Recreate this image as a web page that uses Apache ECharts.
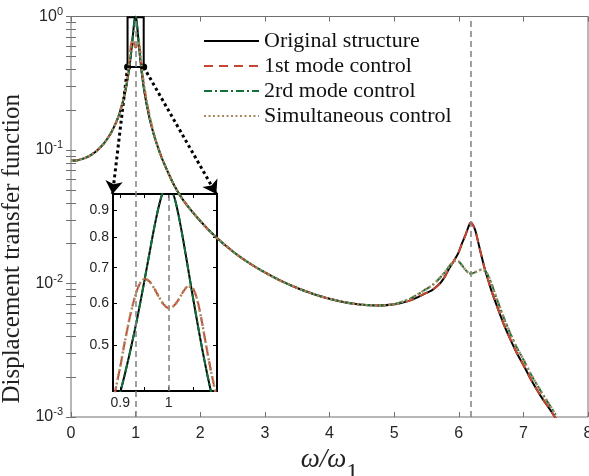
<!DOCTYPE html>
<html>
<head>
<meta charset="utf-8">
<script src="https://cdn.jsdelivr.net/npm/echarts@6/dist/echarts.min.js"></script>
<style>
  html, body { margin: 0; background: #fff; }
  #main { width: 589px; height: 476px; }
</style>
</head>
<body>
<div id="main"></div>
<script>
// frequency ratio w/w1
const freq = [0, 0.1, 0.2, 0.3, 0.4, 0.5, 0.6, 0.7, 0.75, 0.8, 0.82, 0.84, 0.86, 0.88, 0.89,
  0.9, 0.91, 0.92, 0.93, 0.94, 0.95, 0.96, 0.97, 0.98, 0.99, 1.0, 1.01, 1.02, 1.03, 1.04, 1.05,
  1.06, 1.07, 1.08, 1.09, 1.1, 1.11, 1.12, 1.15, 1.2, 1.25, 1.3, 1.4, 1.5, 1.6, 1.75, 2.0, 2.25,
  2.5, 2.75, 3.0, 3.25, 3.5, 3.75, 4.0, 4.25, 4.5, 4.75, 5.0, 5.25, 5.5, 5.6, 5.7, 5.75, 5.8,
  5.85, 5.9, 5.95, 6.0, 6.05, 6.1, 6.15, 6.18, 6.2, 6.25, 6.3, 6.35, 6.4, 6.45, 6.5, 6.6, 6.7,
  6.8, 6.9, 7.0, 7.1, 7.2, 7.3, 7.4, 7.5];

const original = [0.083, 0.0838, 0.0865, 0.0912, 0.0988, 0.1106, 0.1293, 0.1617, 0.1878, 0.2267,
  0.2481, 0.2743, 0.3074, 0.350, 0.376,
  0.4065, 0.442, 0.484, 0.533, 0.592, 0.662, 0.742, 0.831, 0.917, 0.982, 1.0, 0.963, 0.885, 0.791,
  0.699, 0.617, 0.547, 0.488, 0.439, 0.398, 0.362, 0.332, 0.306, 0.248, 0.186, 0.148, 0.1218,
  0.0883, 0.0683, 0.054, 0.0412, 0.0294, 0.0221, 0.01745, 0.0143, 0.0121, 0.01046, 0.00925,
  0.00835, 0.00768, 0.00721, 0.00693, 0.00684, 0.00698, 0.00748, 0.0085, 0.0090, 0.0099, 0.0106,
  0.0116, 0.0129, 0.0141, 0.0155, 0.0172, 0.0200, 0.0228, 0.0266, 0.0285, 0.0283, 0.0255, 0.0205,
  0.0162, 0.0130, 0.0108, 0.0090, 0.0066, 0.0049, 0.0038, 0.0030, 0.00245, 0.00198, 0.00163,
  0.00136, 0.00116, 0.00098];

const firstMode = [0.083, 0.0838, 0.0865, 0.0912, 0.0988, 0.1106, 0.1293, 0.1617, 0.1878, 0.229,
  0.251, 0.279, 0.318, 0.370, 0.41,
  0.455, 0.51, 0.565, 0.615, 0.652, 0.666, 0.66, 0.64, 0.616, 0.596, 0.587, 0.592, 0.608, 0.63,
  0.645, 0.64, 0.605, 0.545, 0.485, 0.435, 0.395, 0.36, 0.33, 0.266, 0.195, 0.152, 0.1235,
  0.0883, 0.0683, 0.054, 0.0412, 0.0294, 0.0221, 0.01745, 0.0143, 0.0121, 0.01046, 0.00925,
  0.00835, 0.00768, 0.00721, 0.00693, 0.00684, 0.00698, 0.00748, 0.0085, 0.0090, 0.0099, 0.0106,
  0.0116, 0.0129, 0.0141, 0.0155, 0.0172, 0.0200, 0.0228, 0.0266, 0.0285, 0.0283, 0.0255, 0.0205,
  0.0162, 0.0130, 0.0108, 0.0090, 0.0066, 0.0049, 0.0038, 0.0030, 0.00245, 0.00198, 0.00163,
  0.00136, 0.00116, 0.00098];

const secondMode = [0.083, 0.0838, 0.0865, 0.0912, 0.0988, 0.1106, 0.1293, 0.1617, 0.1878, 0.2267,
  0.2481, 0.2743, 0.3074, 0.350, 0.376,
  0.4065, 0.442, 0.484, 0.533, 0.592, 0.662, 0.742, 0.831, 0.917, 0.982, 1.0, 0.963, 0.885, 0.791,
  0.699, 0.617, 0.547, 0.488, 0.439, 0.398, 0.362, 0.332, 0.306, 0.248, 0.186, 0.148, 0.1218,
  0.0883, 0.0683, 0.054, 0.0412, 0.0294, 0.0221, 0.01745, 0.0143, 0.0121, 0.01046, 0.00925,
  0.00835, 0.00768, 0.00721, 0.00693, 0.00684, 0.0070, 0.0077, 0.0091, 0.0098, 0.0109, 0.0116,
  0.0124, 0.0134, 0.0143, 0.0148, 0.0146, 0.0137, 0.0127, 0.0120, 0.0119, 0.0119, 0.0121, 0.0125,
  0.0127, 0.0125, 0.0116, 0.0102, 0.0074, 0.0055, 0.0042, 0.0033, 0.0027, 0.00216, 0.00178,
  0.00148, 0.00124, 0.00104];

const simultaneous = [0.083, 0.0838, 0.0865, 0.0912, 0.0988, 0.1106, 0.1293, 0.1617, 0.1878, 0.229,
  0.251, 0.279, 0.318, 0.370, 0.41,
  0.455, 0.51, 0.565, 0.615, 0.652, 0.666, 0.66, 0.64, 0.616, 0.596, 0.587, 0.592, 0.608, 0.63,
  0.645, 0.64, 0.605, 0.545, 0.485, 0.435, 0.395, 0.36, 0.33, 0.266, 0.195, 0.152, 0.1235,
  0.0883, 0.0683, 0.054, 0.0412, 0.0294, 0.0221, 0.01745, 0.0143, 0.0121, 0.01046, 0.00925,
  0.00835, 0.00768, 0.00721, 0.00693, 0.00684, 0.0070, 0.0077, 0.0091, 0.0098, 0.0109, 0.0116,
  0.0124, 0.0134, 0.0143, 0.0148, 0.0146, 0.0137, 0.0127, 0.0120, 0.0119, 0.0119, 0.0121, 0.0125,
  0.0127, 0.0125, 0.0116, 0.0102, 0.0074, 0.0055, 0.0042, 0.0033, 0.0027, 0.00216, 0.00178,
  0.00148, 0.00124, 0.00104];

const seriesNames = ['Original structure', '1st mode control', '2rd mode control', 'Simultaneous control'];
const yMajorTicks = [0.001, 0.01, 0.1, 1];
const yMinorTicks = [0.002, 0.003, 0.004, 0.005, 0.006, 0.007, 0.008, 0.009,
  0.02, 0.03, 0.04, 0.05, 0.06, 0.07, 0.08, 0.09,
  0.2, 0.3, 0.4, 0.5, 0.6, 0.7, 0.8, 0.9];
const insetXTicks = [0.9, 0.95, 1, 1.05, 1.1];
const insetXLabels = [0.9, 1];
const insetYTicks = [0.5, 0.6, 0.7, 0.8, 0.9];
const modeLines = [1, 6.18];

const serif = 'Liberation Serif';
const sans = 'Liberation Sans';

const lineStyles = [
  { color: '#000000', type: 'solid', width: 2 },
  { color: '#c8452f', type: [9, 6], width: 2 },
  { color: '#13703d', type: [8, 3, 2, 3], width: 2 },
  { color: '#a88960', type: [2, 2.5], width: 2.5 }
];
const allData = [original, firstMode, secondMode, simultaneous];

function pairs(ys) {
  return freq.map((x, i) => [x, ys[i]]);
}

const chart = echarts.init(document.getElementById('main'));

const series = [];
// main plot
allData.forEach((ys, i) => {
  series.push({
    name: seriesNames[i],
    type: 'line',
    xAxisIndex: 0,
    yAxisIndex: 0,
    data: pairs(ys),
    symbol: 'none',
    smooth: 0.3,
    lineStyle: lineStyles[i],
    itemStyle: { color: lineStyles[i].color },
    z: 2 + i
  });
});
// inset
allData.forEach((ys, i) => {
  series.push({
    name: seriesNames[i],
    type: 'line',
    xAxisIndex: 2,
    yAxisIndex: 2,
    data: pairs(ys),
    symbol: 'none',
    smooth: 0.3,
    lineStyle: lineStyles[i],
    itemStyle: { color: lineStyles[i].color },
    z: 2 + i
  });
});

const dashed = { type: [6, 4], color: '#808080', width: 1.5 };
// zoom box, arrows and resonance lines on the main plot
series[0].markLine = {
  silent: true,
  symbol: ['none', 'none'],
  label: { show: false },
  data: modeLines.map(v => ({ xAxis: v, lineStyle: dashed })).concat([
    [{ coord: [0.875, 0.418], symbol: 'none' },
     { coord: [0.643, 0.0468], symbol: 'arrow', symbolSize: 13 }],
    [{ coord: [1.125, 0.418], symbol: 'none' },
     { coord: [2.249, 0.0468], symbol: 'arrow', symbolSize: 13 }]
  ].map(d => {
    d[0].lineStyle = { type: [3, 3], color: '#000', width: 3 };
    return d;
  }))
};
series[0].markArea = {
  silent: true,
  itemStyle: { color: 'rgba(0,0,0,0)', borderColor: '#000', borderWidth: 2 },
  data: [[{ coord: [0.875, 0.418] }, { coord: [1.125, 0.986] }]]
};
series[0].markPoint = {
  silent: true,
  symbol: 'circle',
  symbolSize: 7,
  itemStyle: { color: '#000' },
  label: { show: false },
  data: [{ coord: [0.875, 0.418] }, { coord: [1.125, 0.418] }]
};
series[4].markLine = {
  silent: true,
  symbol: ['none', 'none'],
  label: { show: false },
  data: [{ xAxis: 1, lineStyle: dashed }]
};

const axisGray = '#707070';
const labelColor = '#262626';

function logLabel(v) {
  const e = Math.round(Math.log10(v));
  return '10{sup|' + e + '}';
}

const option = {
  animation: false,
  backgroundColor: '#fff',
  legend: {
    data: seriesNames,
    orient: 'vertical',
    left: 198,
    top: 25,
    itemWidth: 55,
    itemHeight: 14,
    itemGap: 3,
    selectedMode: false,
    itemStyle: { opacity: 0 },
    textStyle: { fontFamily: serif, fontSize: 22, color: '#111', lineHeight: 22 }
  },
  grid: [
    { left: 71, right: 1, top: 16.5, bottom: 59, outerBoundsMode: 'none', show: true, borderColor: axisGray, borderWidth: 1 },
    { left: 113, top: 194, width: 104, height: 197, outerBoundsMode: 'none', show: true, borderColor: '#000', borderWidth: 2 }
  ],
  xAxis: [
    {
      type: 'value', gridIndex: 0, min: 0, max: 8, interval: 1,
      name: '{i|ω/ω}{s|1}', nameLocation: 'middle', nameGap: 19,
      nameTextStyle: {
        rich: {
          i: { fontFamily: serif, fontStyle: 'italic', fontSize: 27, color: '#222' },
          s: { fontFamily: serif, fontSize: 24, color: '#222', padding: [24, 0, 0, 0] }
        }
      },
      axisLine: { show: false },
      axisTick: { inside: true, length: 5, lineStyle: { color: axisGray } },
      axisLabel: { fontFamily: sans, fontSize: 16, color: labelColor, margin: 9 },
      splitLine: { show: false }
    },
    {
      type: 'value', gridIndex: 0, position: 'top', min: 0, max: 8, interval: 1,
      axisLine: { show: false },
      axisTick: { inside: true, length: 5, lineStyle: { color: axisGray } },
      axisLabel: { show: false },
      splitLine: { show: false }
    },
    {
      type: 'value', gridIndex: 1, min: 0.885, max: 1.1,
      axisLine: { show: false },
      axisTick: { inside: true, length: 4, customValues: insetXTicks, lineStyle: { color: '#000' } },
      axisLabel: { fontFamily: sans, fontSize: 14, color: labelColor, margin: 5, customValues: insetXLabels },
      splitLine: { show: false }
    },
    {
      type: 'value', gridIndex: 1, position: 'top', min: 0.885, max: 1.1,
      axisLine: { show: false },
      axisTick: { inside: true, length: 4, customValues: insetXTicks, lineStyle: { color: '#000' } },
      axisLabel: { show: false },
      splitLine: { show: false }
    }
  ],
  yAxis: [
    {
      type: 'log', gridIndex: 0, min: 0.001, max: 1, logBase: 10,
      name: 'Displacement transfer function', nameLocation: 'middle', nameGap: 40,
      nameTextStyle: { fontFamily: serif, fontSize: 25, color: '#222', padding: [0, 64, 0, 0] },
      axisLine: { show: false },
      axisTick: { inside: true, length: 5, customValues: yMajorTicks.concat(yMinorTicks), lineStyle: { color: axisGray } },
      axisLabel: {
        fontFamily: sans, fontSize: 16, color: labelColor, margin: 8,
        formatter: logLabel,
        rich: { sup: { fontFamily: sans, fontSize: 11, color: labelColor, verticalAlign: 'top', padding: [0, 0, 10, 0] } }
      },
      splitLine: { show: false }
    },
    {
      type: 'log', gridIndex: 0, position: 'right', min: 0.001, max: 1, logBase: 10,
      axisLine: { show: false },
      axisTick: { inside: true, length: 5, customValues: yMajorTicks.concat(yMinorTicks), lineStyle: { color: axisGray } },
      axisLabel: { show: false },
      splitLine: { show: false }
    },
    {
      type: 'log', gridIndex: 1, min: 0.409, max: 0.965, logBase: 10,
      axisLine: { show: false },
      axisTick: { inside: true, length: 4, customValues: insetYTicks, lineStyle: { color: '#000' } },
      axisLabel: { fontFamily: sans, fontSize: 14, color: labelColor, margin: 4, customValues: insetYTicks },
      splitLine: { show: false }
    },
    {
      type: 'log', gridIndex: 1, position: 'right', min: 0.409, max: 0.965, logBase: 10,
      axisLine: { show: false },
      axisTick: { inside: true, length: 4, customValues: insetYTicks, lineStyle: { color: '#000' } },
      axisLabel: { show: false },
      splitLine: { show: false }
    }
  ],
  series: series
};

chart.setOption(option);
</script>
</body>
</html>
